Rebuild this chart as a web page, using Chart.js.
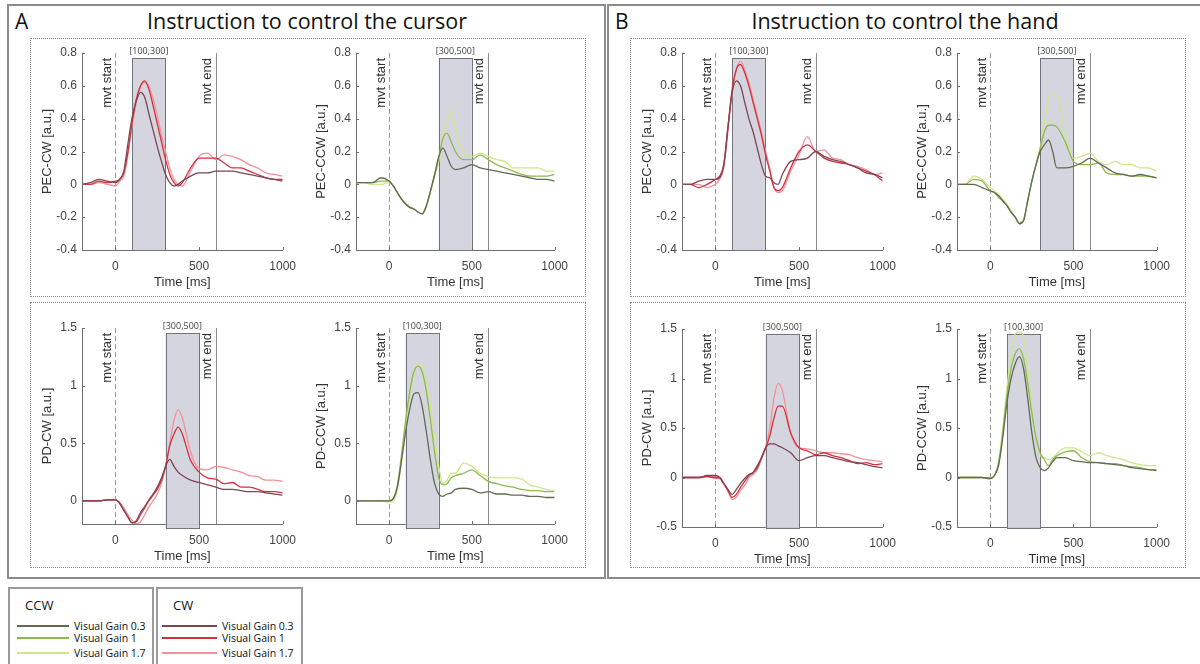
<!DOCTYPE html>
<html>
<head>
<meta charset="utf-8">
<title>Cursor vs hand instruction</title>
<script src="https://cdn.jsdelivr.net/npm/chart.js@4.4.1/dist/chart.umd.min.js"></script>
<style>
  body { margin: 0; background: #fff; }
  #page { position: relative; width: 1200px; height: 664px; overflow: hidden; font-family: "Open Sans", sans-serif; color: #111; }
  .panel { position: absolute; box-sizing: border-box; border: 2px solid #8c8c8c; }
  .group { position: absolute; box-sizing: border-box; border: 1px dotted #8a8a8a; }
  .letter { position: absolute; font-size: 21px; line-height: 1; }
  .title { position: absolute; font-size: 21.5px; line-height: 1; white-space: nowrap; transform: translateX(-50%); }
  canvas { position: absolute; }
  .legend { position: absolute; top: 587px; height: 90px; box-sizing: border-box; border: 2px solid #9a9a9a; }
  .legend .head { position: absolute; left: 15px; top: 7px; font-size: 13px; }
  .legend .swatch { position: absolute; height: 2px; }
  .legend .lbl { position: absolute; font-size: 10.5px; line-height: 14px; white-space: nowrap; }
</style>
</head>
<body>
<div id="page">
  <div class="panel" style="left:7px;top:4px;width:599px;height:575px;"></div>
  <div class="panel" style="left:607px;top:4px;width:600px;height:575px;"></div>
  <div class="letter" style="left:15px;top:11px;">A</div>
  <div class="letter" style="left:615px;top:11px;">B</div>
  <div class="title" style="left:307px;top:10px;">Instruction to control the cursor</div>
  <div class="title" style="left:905px;top:10px;">Instruction to control the hand</div>
  <div class="group" style="left:30px;top:38px;width:556px;height:259px;"></div>
  <div class="group" style="left:30px;top:302px;width:556px;height:266px;"></div>
  <div class="group" style="left:630px;top:38px;width:556px;height:259px;"></div>
  <div class="group" style="left:630px;top:302px;width:556px;height:266px;"></div>
</div>

<script>
// sample times (ms) shared by every trace
const timeMs = [-200, -150, -100, -50, 0, 25, 50, 75, 100, 125, 150, 175, 200, 225, 250, 275, 300, 325, 350, 375, 400, 450, 500, 550, 600, 650, 700, 750, 800, 850, 900, 950, 1000];

const xTicks = [0, 500, 1000];
const yTicksPec = [-0.4, -0.2, 0, 0.2, 0.4, 0.6, 0.8];
const yTicksPdCursor = [0, 0.5, 1, 1.5];
const yTicksPdHand = [-0.5, 0, 0.5, 1, 1.5];

const gainNames = ['Visual Gain 0.3', 'Visual Gain 1', 'Visual Gain 1.7'];
const cwColors = ['rgb(125,70,82)', 'rgb(208,50,62)', 'rgb(243,145,152)'];
const ccwColors = ['rgb(98,106,86)', 'rgb(140,186,80)', 'rgb(207,230,142)'];

// A: instruction to control the cursor
const cursorPecCw03 = [0, 0.01, 0.03, 0.02, 0.01, 0.03, 0.08, 0.25, 0.41, 0.51, 0.56, 0.53, 0.43, 0.33, 0.23, 0.14, 0.06, 0.01, -0.01, 0, 0.02, 0.05, 0.07, 0.07, 0.08, 0.08, 0.08, 0.07, 0.06, 0.05, 0.04, 0.03, 0.02];
const cursorPecCw1 = [0, 0, 0.02, 0.01, 0.02, 0.03, 0.07, 0.2, 0.38, 0.52, 0.6, 0.63, 0.58, 0.48, 0.37, 0.26, 0.15, 0.06, 0.01, -0.01, 0.01, 0.1, 0.16, 0.16, 0.16, 0.13, 0.1, 0.1, 0.08, 0.06, 0.04, 0.03, 0.03];
const cursorPecCw17 = [0, 0, 0.01, 0, -0.01, 0.02, 0.05, 0.18, 0.36, 0.5, 0.59, 0.62, 0.6, 0.52, 0.42, 0.3, 0.2, 0.1, 0.03, 0, -0.01, 0.08, 0.17, 0.19, 0.15, 0.18, 0.17, 0.15, 0.12, 0.1, 0.07, 0.06, 0.05];

const cursorPecCcw03 = [0.01, 0.01, 0.01, 0.04, 0.02, -0.01, -0.05, -0.09, -0.12, -0.14, -0.15, -0.17, -0.18, -0.13, -0.04, 0.06, 0.17, 0.22, 0.17, 0.11, 0.09, 0.1, 0.12, 0.1, 0.09, 0.08, 0.07, 0.06, 0.05, 0.04, 0.03, 0.03, 0.02];
const cursorPecCcw1 = [0.01, 0.01, 0.01, 0.02, 0.02, -0.01, -0.05, -0.09, -0.12, -0.14, -0.15, -0.17, -0.18, -0.13, -0.04, 0.06, 0.16, 0.28, 0.31, 0.26, 0.2, 0.15, 0.15, 0.18, 0.15, 0.12, 0.1, 0.08, 0.06, 0.05, 0.05, 0.05, 0.06];
const cursorPecCcw17 = [0.01, 0.01, 0, 0, 0.01, -0.01, -0.05, -0.09, -0.12, -0.14, -0.15, -0.17, -0.18, -0.14, -0.05, 0.05, 0.14, 0.28, 0.38, 0.45, 0.35, 0.19, 0.17, 0.19, 0.17, 0.15, 0.14, 0.1, 0.1, 0.1, 0.1, 0.08, 0.08];

const cursorPdCw03 = [0, 0, 0, 0.01, 0.01, -0.02, -0.08, -0.14, -0.19, -0.17, -0.1, -0.05, 0.01, 0.06, 0.12, 0.2, 0.3, 0.36, 0.3, 0.25, 0.22, 0.18, 0.16, 0.14, 0.12, 0.1, 0.1, 0.09, 0.08, 0.08, 0.07, 0.06, 0.05];
const cursorPdCw1 = [0, 0, 0, 0.01, 0.01, -0.02, -0.08, -0.14, -0.19, -0.18, -0.12, -0.06, 0, 0.05, 0.1, 0.18, 0.3, 0.48, 0.58, 0.64, 0.58, 0.35, 0.25, 0.2, 0.19, 0.15, 0.16, 0.12, 0.12, 0.1, 0.08, 0.08, 0.07];
const cursorPdCw17 = [0, 0, 0, 0.01, 0.01, -0.01, -0.06, -0.12, -0.17, -0.2, -0.18, -0.12, -0.05, 0, 0.06, 0.15, 0.3, 0.5, 0.7, 0.79, 0.72, 0.42, 0.28, 0.27, 0.3, 0.29, 0.27, 0.25, 0.22, 0.21, 0.18, 0.18, 0.17];

const cursorPdCcw03 = [0, 0, 0, 0, 0, 0.02, 0.12, 0.35, 0.6, 0.8, 0.93, 0.94, 0.82, 0.6, 0.35, 0.15, 0.06, 0.04, 0.06, 0.07, 0.1, 0.11, 0.1, 0.07, 0.08, 0.06, 0.06, 0.05, 0.05, 0.04, 0.04, 0.03, 0.03];
const cursorPdCcw1 = [0, 0, 0, 0, 0, 0.02, 0.14, 0.4, 0.7, 0.95, 1.12, 1.17, 1.12, 0.95, 0.7, 0.42, 0.2, 0.14, 0.15, 0.2, 0.22, 0.24, 0.27, 0.22, 0.17, 0.15, 0.13, 0.12, 0.1, 0.09, 0.09, 0.08, 0.08];
const cursorPdCcw17 = [0, 0, 0, 0, -0.01, 0, 0.1, 0.35, 0.65, 0.92, 1.1, 1.19, 1.17, 1.02, 0.8, 0.55, 0.3, 0.15, 0.18, 0.24, 0.24, 0.33, 0.3, 0.24, 0.21, 0.2, 0.2, 0.2, 0.19, 0.14, 0.12, 0.1, 0.09];

// B: instruction to control the hand
const handPecCw03 = [0, 0, 0.02, 0.03, 0.03, 0.04, 0.12, 0.35, 0.56, 0.63, 0.6, 0.5, 0.4, 0.32, 0.22, 0.12, 0.05, 0.04, 0.01, 0, 0.06, 0.14, 0.15, 0.16, 0.2, 0.17, 0.15, 0.14, 0.12, 0.1, 0.07, 0.06, 0.04];
const handPecCw1 = [0, 0, -0.02, 0, 0.03, 0.05, 0.12, 0.35, 0.58, 0.7, 0.73, 0.68, 0.6, 0.5, 0.4, 0.3, 0.18, 0.08, -0.02, -0.04, -0.02, 0.1, 0.2, 0.24, 0.2, 0.16, 0.14, 0.13, 0.12, 0.1, 0.08, 0.06, 0.02];
const handPecCw17 = [0, 0, 0, -0.02, 0, 0.03, 0.1, 0.32, 0.56, 0.7, 0.75, 0.7, 0.62, 0.52, 0.42, 0.32, 0.2, 0.1, -0.02, -0.05, -0.04, 0.08, 0.18, 0.29, 0.2, 0.21, 0.16, 0.15, 0.12, 0.11, 0.09, 0.06, 0.07];

const handPecCcw03 = [0, 0, 0, -0.02, -0.04, -0.05, -0.07, -0.1, -0.13, -0.17, -0.2, -0.24, -0.22, -0.1, 0.02, 0.12, 0.2, 0.24, 0.27, 0.2, 0.1, 0.1, 0.11, 0.13, 0.16, 0.13, 0.1, 0.07, 0.06, 0.05, 0.06, 0.05, 0.04];
const handPecCcw1 = [0, 0, 0.03, 0.02, -0.04, -0.05, -0.08, -0.1, -0.13, -0.17, -0.2, -0.24, -0.22, -0.1, 0.02, 0.12, 0.22, 0.32, 0.36, 0.36, 0.35, 0.26, 0.14, 0.12, 0.12, 0.13, 0.07, 0.06, 0.06, 0.05, 0.05, 0.05, 0.04];
const handPecCcw17 = [0, 0, 0.05, 0.03, -0.02, -0.04, -0.06, -0.09, -0.12, -0.16, -0.2, -0.23, -0.22, -0.1, 0.02, 0.12, 0.22, 0.38, 0.52, 0.55, 0.55, 0.3, 0.16, 0.17, 0.19, 0.14, 0.12, 0.14, 0.12, 0.12, 0.1, 0.1, 0.08];

const handPdCw03 = [0, 0, 0, 0.02, 0.02, 0, -0.06, -0.12, -0.17, -0.12, -0.06, -0.01, 0.03, 0.05, 0.1, 0.2, 0.3, 0.34, 0.34, 0.32, 0.3, 0.25, 0.17, 0.2, 0.22, 0.22, 0.2, 0.18, 0.16, 0.15, 0.13, 0.11, 0.1];
const handPdCw1 = [0, 0, 0, 0.01, 0, 0, -0.06, -0.13, -0.2, -0.17, -0.1, -0.04, 0.02, 0.05, 0.12, 0.2, 0.3, 0.42, 0.6, 0.72, 0.72, 0.45, 0.3, 0.27, 0.23, 0.25, 0.22, 0.2, 0.17, 0.14, 0.15, 0.13, 0.14];
const handPdCw17 = [0, 0, 0, 0.01, -0.01, -0.01, -0.07, -0.14, -0.22, -0.2, -0.13, -0.08, 0, 0.03, 0.08, 0.18, 0.3, 0.5, 0.8, 0.95, 0.88, 0.45, 0.3, 0.29, 0.27, 0.25, 0.25, 0.24, 0.23, 0.2, 0.18, 0.17, 0.16];

const handPdCcw03 = [0, 0, 0, 0, -0.01, 0.02, 0.12, 0.4, 0.75, 1.0, 1.15, 1.22, 1.1, 0.8, 0.45, 0.2, 0.1, 0.07, 0.1, 0.16, 0.2, 0.2, 0.17, 0.16, 0.15, 0.15, 0.14, 0.13, 0.12, 0.1, 0.09, 0.08, 0.07];
const handPdCcw1 = [0, 0, 0, 0, -0.01, 0.02, 0.15, 0.45, 0.82, 1.1, 1.25, 1.3, 1.2, 0.95, 0.65, 0.4, 0.25, 0.18, 0.12, 0.18, 0.22, 0.26, 0.27, 0.2, 0.16, 0.15, 0.14, 0.14, 0.12, 0.11, 0.1, 0.08, 0.08];
const handPdCcw17 = [0, 0, 0, 0, -0.01, 0.02, 0.15, 0.5, 0.9, 1.25, 1.45, 1.47, 1.42, 1.1, 0.7, 0.4, 0.22, 0.2, 0.18, 0.2, 0.24, 0.3, 0.3, 0.26, 0.22, 0.25, 0.22, 0.2, 0.18, 0.15, 0.13, 0.12, 0.12];

const MVT_START = 0, MVT_END = 600;

// canvas margins around each plot area (px)
const PAD_L = 60, PAD_T = 22, PAD_R = 18, PAD_B = 45;
const AXIS = '#6e6e6e';
const TICK_FONT = { family: 'Liberation Sans', size: 12 };
const LABEL_FONT = { family: 'Liberation Sans', size: 13 };

const plots = [
  { left: 82, top: 53, right: 287, bottom: 250, yMin: -0.4, yMax: 0.8, yTicks: yTicksPec, yLabel: 'PEC-CW [a.u.]', win: [100, 300], colors: cwColors, series: [cursorPecCw03, cursorPecCw1, cursorPecCw17], drop: 0 },
  { left: 356, top: 53, right: 559, bottom: 250, yMin: -0.4, yMax: 0.8, yTicks: yTicksPec, yLabel: 'PEC-CCW [a.u.]', win: [300, 500], colors: ccwColors, series: [cursorPecCcw03, cursorPecCcw1, cursorPecCcw17], drop: 0 },
  { left: 82, top: 328, right: 287, bottom: 524, yMin: -0.2, yMax: 1.5, yTicks: yTicksPdCursor, yLabel: 'PD-CW [a.u.]', win: [300, 500], colors: cwColors, series: [cursorPdCw03, cursorPdCw1, cursorPdCw17], drop: 4 },
  { left: 356, top: 328, right: 559, bottom: 524, yMin: -0.2, yMax: 1.5, yTicks: yTicksPdCursor, yLabel: 'PD-CCW [a.u.]', win: [100, 300], colors: ccwColors, series: [cursorPdCcw03, cursorPdCcw1, cursorPdCcw17], drop: 4 },
  { left: 682, top: 53, right: 887, bottom: 250, yMin: -0.4, yMax: 0.8, yTicks: yTicksPec, yLabel: 'PEC-CW [a.u.]', win: [100, 300], colors: cwColors, series: [handPecCw03, handPecCw1, handPecCw17], drop: 0 },
  { left: 957, top: 53, right: 1161, bottom: 250, yMin: -0.4, yMax: 0.8, yTicks: yTicksPec, yLabel: 'PEC-CCW [a.u.]', win: [300, 500], colors: ccwColors, series: [handPecCcw03, handPecCcw1, handPecCcw17], drop: 0 },
  { left: 682, top: 329, right: 887, bottom: 527, yMin: -0.5, yMax: 1.5, yTicks: yTicksPdHand, yLabel: 'PD-CW [a.u.]', win: [300, 500], colors: cwColors, series: [handPdCw03, handPdCw1, handPdCw17], drop: 1 },
  { left: 957, top: 329, right: 1161, bottom: 527, yMin: -0.5, yMax: 1.5, yTicks: yTicksPdHand, yLabel: 'PD-CCW [a.u.]', win: [100, 300], colors: ccwColors, series: [handPdCcw03, handPdCcw1, handPdCcw17], drop: 1 }
];

// shaded analysis window, movement start/end markers, inward ticks
const epochMarks = {
  id: 'epochMarks',
  beforeDatasetsDraw(chart, args, opts) {
    const { ctx, chartArea: a, scales: { x } } = chart;
    const x0 = x.getPixelForValue(opts.win[0]);
    const x1 = x.getPixelForValue(opts.win[1]);
    const boxTop = a.top + 5;
    const boxBottom = a.bottom + opts.drop;
    ctx.save();
    ctx.fillStyle = 'rgba(208,208,220,0.9)';
    ctx.fillRect(x0, boxTop, x1 - x0, boxBottom - boxTop);
    ctx.strokeStyle = '#74747e';
    ctx.lineWidth = 1;
    ctx.strokeRect(Math.round(x0) + 0.5, boxTop + 0.5, Math.round(x1 - x0), boxBottom - boxTop);
    ctx.fillStyle = '#444';
    ctx.font = '9px "Open Sans"';
    ctx.textAlign = 'center';
    ctx.textBaseline = 'bottom';
    ctx.fillText('[' + opts.win[0] + ',' + opts.win[1] + ']', (x0 + x1) / 2, boxTop - 2);

    const xs = Math.round(x.getPixelForValue(MVT_START)) + 0.5;
    const xe = Math.round(x.getPixelForValue(MVT_END)) + 0.5;
    ctx.strokeStyle = '#9a9a9a';
    ctx.setLineDash([5, 3]);
    ctx.beginPath(); ctx.moveTo(xs, a.top); ctx.lineTo(xs, a.bottom); ctx.stroke();
    ctx.setLineDash([]);
    ctx.strokeStyle = '#8a8a8a';
    ctx.beginPath(); ctx.moveTo(xe, a.top); ctx.lineTo(xe, a.bottom); ctx.stroke();

    ctx.fillStyle = '#333';
    ctx.font = '13px "Liberation Sans"';
    ctx.textAlign = 'right';
    ctx.textBaseline = 'middle';
    [['mvt start', xs - 8], ['mvt end', xe - 9]].forEach(([txt, px]) => {
      ctx.save();
      ctx.translate(px, a.top + 5);
      ctx.rotate(-Math.PI / 2);
      ctx.fillText(txt, 0, 0);
      ctx.restore();
    });
    ctx.restore();
  },
  afterDraw(chart) {
    const { ctx, chartArea: a, scales: { x, y } } = chart;
    ctx.save();
    ctx.strokeStyle = AXIS;
    ctx.lineWidth = 1;
    ctx.beginPath();
    x.ticks.forEach(t => {
      const px = Math.round(x.getPixelForValue(t.value)) + 0.5;
      ctx.moveTo(px, a.bottom); ctx.lineTo(px, a.bottom - 3);
    });
    y.ticks.forEach(t => {
      const py = Math.round(y.getPixelForValue(t.value)) + 0.5;
      ctx.moveTo(a.left, py); ctx.lineTo(a.left + 3, py);
    });
    ctx.stroke();
    ctx.restore();
  }
};

const page = document.getElementById('page');

plots.forEach(p => {
  const w = p.right - p.left + PAD_L + PAD_R;
  const h = p.bottom - p.top + PAD_T + PAD_B;
  const canvas = document.createElement('canvas');
  canvas.width = w;
  canvas.height = h;
  canvas.style.left = (p.left - PAD_L) + 'px';
  canvas.style.top = (p.top - PAD_T) + 'px';
  canvas.style.width = w + 'px';
  canvas.style.height = h + 'px';
  page.appendChild(canvas);

  new Chart(canvas, {
    type: 'line',
    data: {
      datasets: p.series.map((vals, i) => ({
        label: gainNames[i],
        data: timeMs.map((t, k) => ({ x: t, y: vals[k] })),
        borderColor: p.colors[i],
        borderWidth: 1.3,
        pointRadius: 0,
        cubicInterpolationMode: 'monotone'
      }))
    },
    options: {
      responsive: false,
      animation: false,
      devicePixelRatio: 1,
      layout: { padding: { left: 0, top: PAD_T, right: PAD_R, bottom: 0 } },
      plugins: {
        legend: { display: false },
        tooltip: { enabled: false },
        epochMarks: { win: p.win, drop: p.drop }
      },
      scales: {
        x: {
          type: 'linear',
          min: -200,
          max: 1000,
          afterBuildTicks: s => { s.ticks = xTicks.map(v => ({ value: v })); },
          afterFit: s => { s.height = PAD_B; },
          grid: { display: false, drawTicks: false },
          border: { display: true, color: AXIS, width: 1 },
          ticks: { color: '#444', font: TICK_FONT, padding: 9, maxRotation: 0, autoSkip: false, callback: v => String(v) },
          title: { display: true, text: 'Time [ms]', color: '#333', font: LABEL_FONT, padding: { top: 0, bottom: 5 } }
        },
        y: {
          min: p.yMin,
          max: p.yMax,
          afterBuildTicks: s => { s.ticks = p.yTicks.map(v => ({ value: v })); },
          afterFit: s => { s.width = PAD_L; },
          grid: { display: false, drawTicks: false },
          border: { display: true, color: AXIS, width: 1 },
          ticks: { color: '#444', font: TICK_FONT, padding: 5, callback: v => String(v) },
          title: { display: true, text: p.yLabel, color: '#333', font: LABEL_FONT, padding: { top: 18, bottom: 0 } }
        }
      }
    },
    plugins: [epochMarks]
  });
});

// legend boxes for the two rotation directions
const legendRows = [36, 48, 63];
[['CCW', ccwColors, 8, 146, 7, 52], ['CW', cwColors, 156, 147, 4, 55]].forEach(([name, colors, left, width, lineX, lineW]) => {
  const box = document.createElement('div');
  box.className = 'legend';
  box.style.left = left + 'px';
  box.style.width = width + 'px';
  let html = '<div class="head">' + name + '</div>';
  legendRows.forEach((top, i) => {
    html += '<div class="swatch" style="left:' + lineX + 'px;top:' + top + 'px;width:' + lineW + 'px;background-color:' + colors[i] + '"></div>' +
      '<div class="lbl" style="left:' + (lineX + lineW + 5) + 'px;top:' + (top - 6) + 'px">' + gainNames[i] + '</div>';
  });
  box.innerHTML = html;
  page.appendChild(box);
});
</script>
</body>
</html>
